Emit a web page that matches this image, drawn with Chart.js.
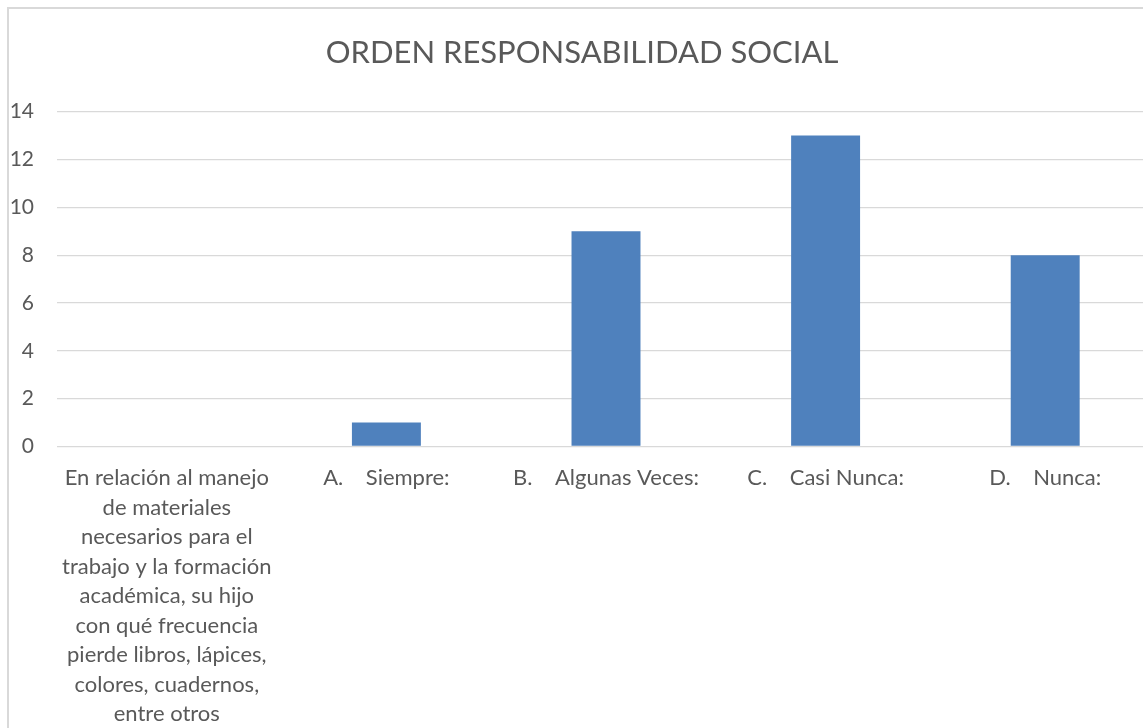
<!DOCTYPE html>
<html><head><meta charset="utf-8">
<script src="https://cdn.jsdelivr.net/npm/chart.js@4.4.0/dist/chart.umd.min.js"></script>
<style>
html,body{margin:0;padding:0;background:#fff;overflow:hidden;width:1143px;height:728px;}
#box{position:absolute;left:7px;top:7px;width:1146px;height:760px;border:2px solid #d9d9d9;background:#fff;}
canvas{display:block;}
</style></head><body>
<div id="box"><canvas id="c" width="1146" height="760"></canvas></div>
<script>
const chartTitle = "ORDEN RESPONSABILIDAD SOCIAL";
const categories = [
  ["En relación al manejo","de materiales","necesarios para el","trabajo y la formación","académica, su hijo","con qué frecuencia","pierde libros, lápices,","colores, cuadernos,","entre otros"],
  "A.    Siempre:",
  "B.    Algunas Veces:",
  "C.    Casi Nunca:",
  "D.    Nunca:"
];
const values = [0, 1, 9, 13, 8];
const yTicks = [0, 2, 4, 6, 8, 10, 12, 14];

const FONT = "Lato, 'Open Sans', sans-serif";
const H = 760;
const chartBottom = 437.5;
new Chart(document.getElementById('c'), {
  type: 'bar',
  data: { labels: categories, datasets: [{ data: values, backgroundColor: '#4F81BD', borderWidth: 0, barPercentage: 0.314, categoryPercentage: 1 }] },
  options: {
    responsive: false, animation: false,
    layout: { padding: { left: 0, right: 0, top: 0, bottom: 0 } },
    plugins: {
      legend: { display: false }, tooltip: { enabled: false },
      title: { display: true, text: chartTitle, color: '#595959', font: { family: FONT, size: 31, weight: 'normal', lineHeight: 1.2 }, padding: { top: 25, bottom: 40.5 } }
    },
    scales: {
      x: {
        grid: { display: false }, border: { display: false },
        ticks: { color: '#595959', font: { family: FONT, size: 22, lineHeight: 29.5/22 }, padding: 8.75, autoSkip: false, maxRotation: 0, minRotation: 0 },
        afterFit: s => { s.height = H - chartBottom; }
      },
      y: {
        min: 0, max: 14,
        afterBuildTicks: s => { s.ticks = yTicks.map(v => ({ value: v })); },
        grid: { color: '#d9d9d9', lineWidth: 1.3, drawTicks: false }, border: { display: false },
        ticks: { color: '#595959', font: { family: FONT, size: 21 }, padding: 23 },
        afterFit: s => { s.width = 48; }
      }
    }
  }
});
</script>
</body></html>
